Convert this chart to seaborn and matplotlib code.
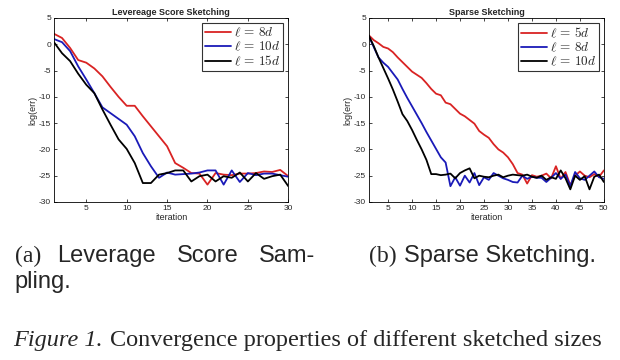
import pandas as pd
import matplotlib
matplotlib.use("Agg")
import matplotlib.pyplot as plt
import seaborn as sns

# values (log of error per iteration)
lev_iter = list(range(1, 31))
lev_8d = [2.0, 1.2, -0.7, -3.0, -3.5, -4.6, -6.1, -8.1, -10.0, -11.7,
          -11.7, -13.7, -15.6, -17.5, -19.4, -22.6, -23.5, -24.5, -24.6, -26.7,
          -24.5, -24.8, -24.9, -24.6, -24.6, -24.5, -24.2, -24.3, -23.9, -25.1]
lev_10d = [1.0, 0.4, -1.3, -4.2, -6.7, -9.3, -12.0, -13.1, -14.2, -15.3,
           -17.5, -20.7, -23.2, -25.4, -24.4, -24.8, -24.7, -24.6, -24.4, -24.0,
           -24.0, -26.7, -24.0, -26.2, -24.5, -24.9, -24.6, -24.6, -24.9, -25.2]
lev_15d = [0.4, -1.7, -3.2, -5.6, -7.7, -9.3, -12.4, -15.3, -18.1, -19.9,
           -22.6, -26.4, -26.4, -24.8, -24.5, -24.0, -24.0, -26.1, -25.1, -24.8,
           -26.1, -25.1, -25.4, -24.4, -26.1, -24.5, -25.6, -25.1, -24.8, -27.0]

sp_iter = list(range(1, 51))
sp_5d = [1.7, 0.8, 0.2, -0.5, -0.8, -1.5, -2.5, -3.4, -4.3, -5.2,
         -5.8, -6.4, -7.4, -8.5, -9.4, -9.7, -11.1, -11.4, -12.3, -13.2,
         -13.7, -14.4, -15.1, -16.5, -17.2, -17.8, -19.0, -20.0, -20.6, -21.5,
         -22.8, -24.5, -24.8, -26.5, -24.9, -25.2, -25.0, -24.6, -25.5, -23.2,
         -25.6, -24.3, -26.8, -25.0, -24.2, -25.0, -25.3, -24.7, -25.2, -24.0]
sp_8d = [1.5, -0.5, -2.5, -3.5, -4.3, -5.5, -6.7, -8.5, -10.2, -11.8,
         -13.4, -15.0, -16.7, -18.3, -19.9, -21.5, -22.5, -27.0, -25.3, -26.9,
         -25.0, -26.3, -24.5, -26.8, -25.3, -25.8, -24.5, -25.0, -25.5, -25.8,
         -26.2, -26.3, -25.0, -25.6, -25.2, -25.4, -25.4, -26.2, -25.4, -24.5,
         -25.6, -24.8, -27.0, -24.3, -25.5, -25.8, -25.0, -24.2, -25.3, -25.6]
sp_10d = [1.6, -0.3, -2.5, -4.5, -6.5, -8.6, -10.9, -13.3, -14.6, -16.3,
          -18.2, -20.0, -22.0, -24.7, -24.7, -24.9, -24.8, -24.6, -25.5, -24.5,
          -24.0, -23.6, -25.5, -25.0, -25.2, -25.3, -25.0, -24.8, -25.3, -25.0,
          -24.8, -24.9, -25.0, -24.8, -25.2, -25.4, -25.0, -25.8, -25.3, -25.6,
          -24.0, -25.5, -27.6, -25.0, -25.8, -25.1, -27.6, -25.2, -24.8, -26.2]

lev_labels = [r"$\ell\,=\,8d$", r"$\ell\,=\,10d$", r"$\ell\,=\,15d$"]
sp_labels = [r"$\ell\,=\,5d$", r"$\ell\,=\,8d$", r"$\ell\,=\,10d$"]
line_colors = ["#d92323", "#1a1ab8", "#000000"]


def make_long(x, series, labels):
    frames = []
    for vals, lab in zip(series, labels):
        frames.append(pd.DataFrame({"iteration": x, "log(err)": vals, "size": lab}))
    return pd.concat(frames, ignore_index=True)


lev_df = make_long(lev_iter, [lev_8d, lev_10d, lev_15d], lev_labels)
sp_df = make_long(sp_iter, [sp_5d, sp_8d, sp_10d], sp_labels)

sns.set_style("white")
plt.rcParams["mathtext.fontset"] = "cm"
plt.rcParams["axes.unicode_minus"] = False
plt.rcParams["font.family"] = ["Liberation Sans", "DejaVu Sans"]

fig = plt.figure(figsize=(6.2, 3.6), dpi=100)
ax1 = fig.add_axes([0.087, 0.439, 0.378, 0.511])
ax2 = fig.add_axes([0.595, 0.439, 0.379, 0.511])


def style_panel(ax, df, labels, title, xmax, xticks):
    sns.lineplot(data=df, x="iteration", y="log(err)", hue="size", hue_order=labels,
                 palette=line_colors, linewidth=1.3, ax=ax)
    ax.set_xlim(1, xmax)
    ax.set_ylim(-30, 5)
    ax.set_xticks(xticks)
    ax.set_yticks(range(-30, 6, 5))
    ax.set_title(title, fontsize=6.5, fontweight="bold", pad=2)
    ax.set_xlabel("iteration", fontsize=6.5, labelpad=1)
    ax.set_ylabel("log(err)", fontsize=6.5, labelpad=1)
    ax.tick_params(direction="in", length=2.5, width=0.6, labelsize=6,
                   top=True, right=True, bottom=True, left=True, pad=2)
    for s in ax.spines.values():
        s.set_linewidth(0.6)
        s.set_color("black")
    handles, labs = ax.get_legend_handles_labels()
    leg = ax.legend(handles, labs, loc="upper right", fontsize=9.5, frameon=True,
                    fancybox=False, edgecolor="black", borderaxespad=0.4,
                    handlelength=2.0, handletextpad=0.2, labelspacing=0.05,
                    borderpad=0.2)
    leg.get_frame().set_linewidth(0.8)


style_panel(ax1, lev_df, lev_labels, "Levereage Score Sketching", 30, [5, 10, 15, 20, 25, 30])
style_panel(ax2, sp_df, sp_labels, "Sparse Sketching", 50, [5, 10, 15, 20, 25, 30, 35, 40, 45, 50])

# sub-captions
fig.text(0.024, 0.288, "(a)", fontsize=17, family="Liberation Serif", va="center")
fig.text(0.092, 0.288, "Leverage", fontsize=17, family="Liberation Sans", va="center")
fig.text(0.285, 0.288, "Score", fontsize=17, family="Liberation Sans", va="center")
fig.text(0.418, 0.288, "Sam-", fontsize=17, family="Liberation Sans", va="center")
fig.text(0.024, 0.217, "pling.", fontsize=17, family="Liberation Sans", va="center")
fig.text(0.595, 0.288, "(b)", fontsize=17, family="Liberation Serif", va="center")
fig.text(0.652, 0.288, "Sparse Sketching.", fontsize=17, family="Liberation Sans", va="center")

fig.text(0.021, 0.055, "Figure 1.", fontsize=17.5, family="Liberation Serif",
         style="italic", va="center")
fig.text(0.177, 0.055, "Convergence properties of different sketched sizes",
         fontsize=17.5, family="Liberation Serif", va="center")

fig.savefig("out.png", dpi=100)
